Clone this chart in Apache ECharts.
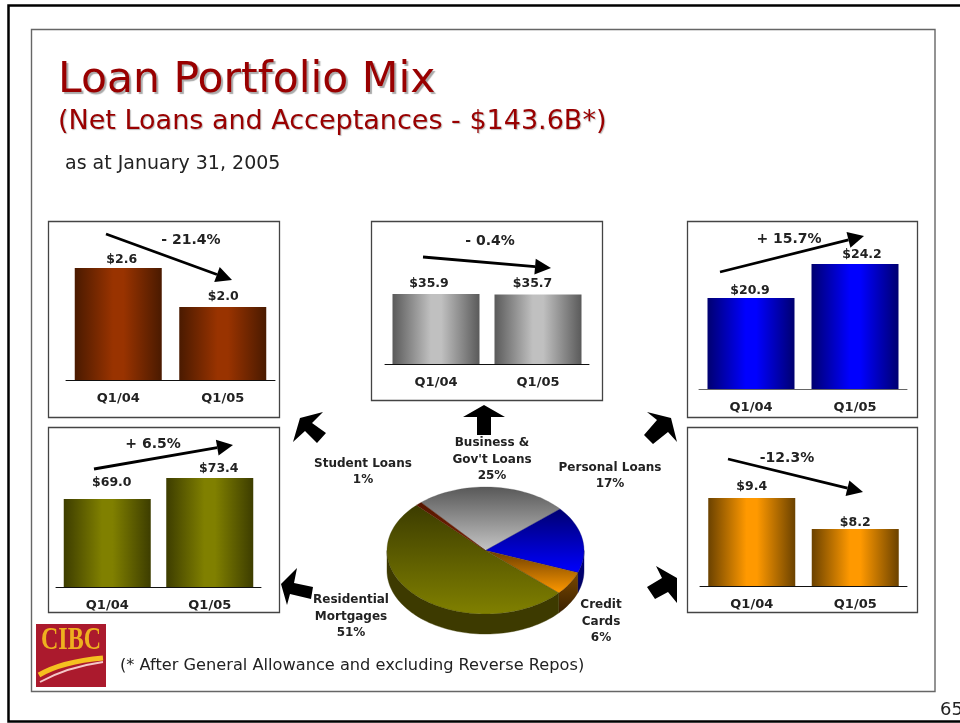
<!DOCTYPE html>
<html>
<head>
<meta charset="utf-8">
<style>html,body{margin:0;padding:0;background:#fff}#c{width:960px;height:723px}</style>
<script src="https://cdn.jsdelivr.net/npm/echarts@6/dist/echarts.min.js"></script>
</head>
<body>
<div id="c"></div>
<script>
// ---- data ----
const quarters = ['Q1/04', 'Q1/05'];
const studentLoans = [2.6, 2.0];
const businessLoans = [35.9, 35.7];
const personalLoans = [20.9, 24.2];
const creditCards = [9.4, 8.2];
const mortgages = [69.0, 73.4];
const pieNames = ['Business & Gov\'t Loans', 'Personal Loans', 'Credit Cards', 'Residential Mortgages', 'Student Loans'];
const pieShares = [25, 17, 6, 51, 1];
const changes = ['- 21.4%', '- 0.4%', '+ 15.7%', '-12.3%', '+ 6.5%'];

// ---- layout ----
const FONT = '"DejaVu Sans", Verdana, sans-serif';
const INK = '#222';
const panels = [
  {v: studentLoans,  box: [48, 221, 231, 196], grid: [66, 268, 209, 112], base: 0.88,  edge: '#4a1a00', mid: '#993300', axis: '#111', chg: [191, 240], off: [[3.5, 3], [0.5, 1]]},
  {v: businessLoans, box: [371, 221, 231, 179], grid: [385, 294, 204, 70], base: 0,    edge: '#5a5a5a', mid: '#c0c0c0', axis: '#111', chg: [490, 241], off: [[-7, 1], [-5.5, 1]]},
  {v: personalLoans, box: [687, 221, 230, 196], grid: [699, 264, 208, 125], base: 12.07, edge: '#000070', mid: '#0000ff', axis: '#666', chg: [789, 239], off: [[-1, 4], [7, 2]]},
  {v: creditCards,   box: [687, 427, 230, 185], grid: [700, 498, 207, 88], base: 5.99,  edge: '#6b4200', mid: '#ff9900', axis: '#111', chg: [787, 458], off: [[0, 0], [0, 5]]},
  {v: mortgages,     box: [48, 427, 231, 185],  grid: [56, 478, 205, 109], base: 50.55, edge: '#3d3d00', mid: '#808000', axis: '#111', chg: [153, 444], off: [[4.5, -5], [9, 2]]}
];
const trendArrows = [
  [[106, 234], [232, 280]],
  [[423, 257], [551, 268]],
  [[720, 272], [864, 236]],
  [[728, 459], [863, 492]],
  [[94, 469], [233, 445]]
];
const blockArrows = [
  [[484,405],[505,417],[491,417],[491,435],[477,435],[477,417],[463,417]],
  [[300,418],[323,412],[312,423],[326,433],[317,443],[305,431],[293,442]],
  [[281,584],[297,568],[294,583],[313,587],[311,599],[290,594],[287,605]],
  [[647,412],[671,418],[677,442],[668,432],[653,444],[644,435],[657,420]],
  [[656,566],[677,578],[677,603],[668,592],[655,599],[647,587],[662,578]]
];
const pieLabels = [
  {t: "Student Loans\n1%", x: 363, y: 472},
  {t: "Business &\nGov't Loans\n25%", x: 492, y: 459.5},
  {t: "Personal Loans\n17%", x: 610, y: 476},
  {t: "Credit\nCards\n6%", x: 601, y: 621.5},
  {t: "Residential\nMortgages\n51%", x: 351, y: 616.5}
];
const PIE = {cx: 485.5, cy: 550.5, rx: 98.5, ry: 63.5, depth: 20, start: -130.8};
const pieTop = [
  ['#585858', '#c4c4c4'], ['#000070', '#0000ff'], ['#6a3c00', '#ff9900'], ['#3c3c00', '#808000'], ['#551500', '#7a2200']
];
const pieSide = [
  ['#333', '#333'], ['#000080', '#000060'], ['#7a4800', '#3a2000'], ['#3d3a00', '#3d3a00'], ['#440', '#440']
];

// ---- helpers ----
function vGrad(a, b) {
  return {type: 'linear', x: 0, y: 0, x2: 0, y2: 1, colorStops: [{offset: 0, color: a}, {offset: 1, color: b}]};
}
function hGrad(edge, mid) {
  return {type: 'linear', x: 0, y: 0, x2: 1, y2: 0, colorStops: [
    {offset: 0, color: edge}, {offset: 0.44, color: mid}, {offset: 0.56, color: mid}, {offset: 1, color: edge}]};
}
function ellipsePt(deg, dy) {
  const t = deg * Math.PI / 180;
  return [PIE.cx + PIE.rx * Math.cos(t), PIE.cy + (dy || 0) + PIE.ry * Math.sin(t)];
}
function arc(a0, a1, dy) {
  const pts = [];
  const n = Math.max(2, Math.ceil(Math.abs(a1 - a0) / 2));
  for (let i = 0; i <= n; i++) pts.push(ellipsePt(a0 + (a1 - a0) * i / n, dy));
  return pts;
}
function renderSlice(params, api) {
  const i = params.dataIndex;
  const total = pieShares.reduce((a, b) => a + b, 0);
  const before = pieShares.slice(0, i).reduce((a, b) => a + b, 0);
  const a0 = PIE.start + before / total * 360;
  const a1 = a0 + api.value(0) / total * 360;
  const children = [];
  // visible rim: the part of the slice on the near half of the ellipse
  for (const k of [0, 360]) {
    const s = Math.max(a0, k), e = Math.min(a1, k + 180);
    if (e > s) {
      const pts = arc(s, e, 0).concat(arc(e, s, PIE.depth));
      children.push({type: 'polygon', shape: {points: pts},
        style: {fill: vGrad(pieSide[i][0], pieSide[i][1]), stroke: pieSide[i][1], lineWidth: 0.4}});
    }
  }
  children.push({type: 'polygon', shape: {points: [[PIE.cx, PIE.cy]].concat(arc(a0, a1, 0))},
    style: {fill: vGrad(pieTop[i][0], pieTop[i][1]), stroke: pieTop[i][0], lineWidth: 0.3}});
  return {type: 'group', children};
}

// ---- graphics ----
const gfx = [
  {type: 'rect', shape: {x: 8.5, y: 5.5, width: 970, height: 716}, style: {fill: '#fff', stroke: '#000', lineWidth: 2.5}, z: -10},
  {type: 'rect', shape: {x: 31.5, y: 29.5, width: 903.5, height: 662}, style: {fill: '#fff', stroke: '#666', lineWidth: 1.4}, z: -9}
];
panels.forEach(p => {
  gfx.push({type: 'rect', shape: {x: p.box[0] + .5, y: p.box[1] + .5, width: p.box[2], height: p.box[3]},
    style: {fill: '#fff', stroke: '#444', lineWidth: 1.3}, z: -8});
});
blockArrows.forEach(pts => gfx.push({type: 'polygon', shape: {points: pts}, style: {fill: '#000'}, z: 50}));
trendArrows.forEach(([a, b]) => {
  const ang = Math.atan2(b[1] - a[1], b[0] - a[0]);
  const L = 16, W = 8;
  const bx = b[0] - L * Math.cos(ang), by = b[1] - L * Math.sin(ang);
  const nx = -Math.sin(ang), ny = Math.cos(ang);
  gfx.push({type: 'line', shape: {x1: a[0], y1: a[1], x2: bx, y2: by}, style: {stroke: '#000', lineWidth: 2.8}, z: 50});
  gfx.push({type: 'polygon', shape: {points: [b, [bx + nx * W, by + ny * W], [bx - nx * W, by - ny * W]]}, style: {fill: '#000'}, z: 50});
});
panels.forEach((p, i) => gfx.push({type: 'text', x: p.chg[0], y: p.chg[1], z: 60,
  style: {text: changes[i], fill: INK, font: 'bold 14px ' + FONT, align: 'center', verticalAlign: 'middle'}}));
pieLabels.forEach(l => gfx.push({type: 'text', x: l.x, y: l.y, z: 60,
  style: {text: l.t, fill: INK, font: 'bold 12px ' + FONT, align: 'center', verticalAlign: 'middle', lineHeight: 16.5}}));
gfx.push({type: 'text', x: 65, y: 164, z: 60, style: {text: 'as at January 31, 2005', fill: '#222', font: '19px ' + FONT, verticalAlign: 'middle'}});
gfx.push({type: 'text', x: 120, y: 666, z: 60, style: {text: '(* After General Allowance and excluding Reverse Repos)', fill: '#222', font: '16.2px ' + FONT, verticalAlign: 'middle'}});
gfx.push({type: 'text', x: 940, y: 710, z: 60, style: {text: '65', fill: '#222', font: '18px ' + FONT, verticalAlign: 'middle'}});
// logo
gfx.push({type: 'rect', shape: {x: 36, y: 624, width: 70, height: 63}, style: {fill: '#ab1a2d'}, z: 40});
gfx.push({type: 'text', x: 71, y: 641, scaleY: 1.3, z: 41, style: {text: 'CIBC', fill: '#eeb01f', font: 'bold 24px "Liberation Serif", serif', align: 'center', verticalAlign: 'middle'}});
gfx.push({type: 'bezierCurve', z: 41, shape: {x1: 39, y1: 675, cpx1: 56, cpy1: 665, cpx2: 80, cpy2: 660, x2: 103, y2: 658}, style: {stroke: '#f5c01f', lineWidth: 5, fill: 'none'}});
gfx.push({type: 'bezierCurve', z: 41, shape: {x1: 40, y1: 682, cpx1: 58, cpy1: 672, cpx2: 82, cpy2: 665, x2: 103, y2: 662}, style: {stroke: '#f4c8c8', lineWidth: 2, fill: 'none'}});

// ---- option ----
const grids = [], xAxes = [], yAxes = [], series = [];
panels.forEach((p, i) => {
  grids.push({left: p.grid[0], top: p.grid[1], width: p.grid[2], height: p.grid[3], containLabel: false});
  xAxes.push({type: 'category', gridIndex: i, data: quarters,
    axisLine: {show: true, lineStyle: {color: p.axis, width: 1}}, axisTick: {show: false},
    axisLabel: {color: INK, fontFamily: FONT, fontWeight: 'bold', fontSize: 13, margin: 12}});
  yAxes.push({type: 'value', gridIndex: i, show: false, min: p.base, max: Math.max(...p.v), splitLine: {show: false}});
  series.push({type: 'bar', xAxisIndex: i, yAxisIndex: i, barWidth: 87, silent: true,
    data: p.v.map((v, j) => ({value: v, label: {offset: p.off[j]}})),
    itemStyle: {color: hGrad(p.edge, p.mid)},
    label: {show: true, position: 'top', distance: 5, color: INK, fontFamily: FONT, fontWeight: 'bold', fontSize: 12.5,
      formatter: o => '$' + o.value.toFixed(1)}});
});
series.push({type: 'custom', coordinateSystem: 'none', renderItem: renderSlice, silent: true, z: 5,
  data: pieShares.map((v, i) => ({name: pieNames[i], value: [v]}))});

const chart = echarts.init(document.getElementById('c'), null, {renderer: 'canvas'});
chart.setOption({
  animation: false,
  backgroundColor: '#fff',
  title: [
    {text: 'Loan Portfolio Mix', left: 53, top: 54, textStyle: {color: '#990000', fontFamily: FONT, fontWeight: 'normal', fontSize: 42.5,
      textShadowColor: '#aaa', textShadowOffsetX: 2, textShadowOffsetY: 2, textShadowBlur: 1}},
    {text: '(Net Loans and Acceptances - $143.6B*)', left: 53, top: 103, textStyle: {color: '#990000', fontFamily: FONT, fontWeight: 'normal', fontSize: 27,
      textShadowColor: '#bbb', textShadowOffsetX: 1, textShadowOffsetY: 1, textShadowBlur: 1}}
  ],
  grid: grids, xAxis: xAxes, yAxis: yAxes, series,
  graphic: {elements: gfx}
});
</script>
</body>
</html>
